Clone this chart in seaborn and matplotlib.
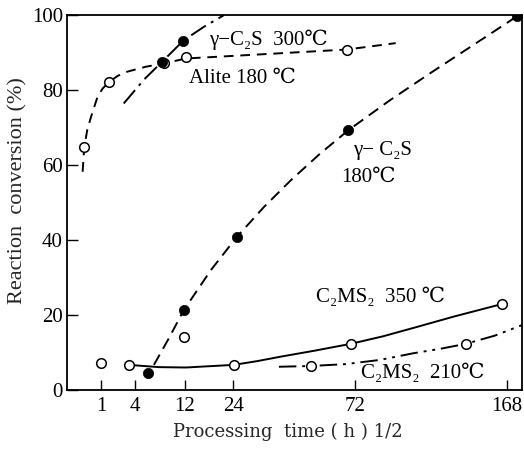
import numpy as np
import pandas as pd
import matplotlib
matplotlib.use("Agg")
import matplotlib.pyplot as plt
import seaborn as sns

# Horizontal axis is the square root of processing time, h^(1/2)
tick_hours = [1, 4, 12, 24, 72, 168]
tick_labels = ["1", "4", "12", "24", "72", "168"]
y_ticks = [0, 20, 40, 60, 80, 100]

# Alite, 180 degC (open circles, dashed curve)
alite_x = [0.51, 1.245, 2.86, 3.50, 8.25]
alite_y = [64.9, 82.2, 87.1, 88.7, 90.8]
alite_curve_x = [0.46, 0.51, 0.60, 0.71, 0.90, 1.05, 1.245, 1.50, 1.78, 2.32, 2.86, 3.50, 5.50, 8.25, 9.68]
alite_curve_y = [58.2, 64.9, 69.5, 72.9, 78.2, 80.4, 82.2, 83.8, 84.9, 86.2, 87.1, 88.4, 89.4, 90.8, 92.5]

# gamma-C2S, 300 degC (filled circles, dash-dot curve)
g300_x = [2.81, 3.43]
g300_y = [87.6, 93.2]
g300_curve_x = [1.67, 2.27, 2.81, 3.43, 4.04, 4.63]
g300_curve_y = [76.4, 82.8, 87.6, 93.2, 96.9, 100.0]

# gamma-C2S, 180 degC (filled circles, dashed curve)
g180_x = [2.38, 3.44, 5.00, 8.29, 13.26]
g180_y = [4.5, 21.3, 40.8, 69.3, 99.7]
g180_curve_x = [2.56, 3.00, 3.44, 4.24, 5.00, 5.80, 6.60, 7.45, 8.29, 9.50, 10.70, 12.00, 13.26]
g180_curve_y = [6.7, 13.8, 21.3, 32.0, 40.8, 48.8, 56.0, 63.0, 69.3, 77.2, 84.5, 92.2, 99.7]

# C2MS2, 350 degC (open circles, solid curve)
m350_x = [1.00, 1.82, 3.44, 4.91, 8.35, 12.80]
m350_y = [7.2, 6.7, 14.1, 6.7, 12.3, 22.9]
m350_curve_x = [1.82, 2.70, 3.50, 4.91, 5.60, 6.30, 7.30, 8.35, 9.30, 10.30, 11.40, 12.80]
m350_curve_y = [6.7, 6.1, 6.0, 6.7, 7.7, 8.9, 10.5, 12.3, 14.3, 16.8, 19.6, 22.9]

# C2MS2, 210 degC (open circles, dash-dot-dot curve)
m210_x = [7.18, 11.74]
m210_y = [6.4, 12.3]
m210_curve_x = [6.24, 7.18, 8.20, 9.20, 10.20, 11.00, 11.74, 12.60, 13.40]
m210_curve_y = [6.2, 6.4, 6.9, 8.0, 9.8, 11.0, 12.3, 14.5, 17.3]

sns.set_theme(style="ticks")
serif = ["Liberation Serif", "DejaVu Serif", "DejaVu Sans"]
plt.rcParams["font.family"] = serif

fig = plt.figure(figsize=(5.24, 4.5), dpi=100)
ax = fig.add_axes([67 / 524, 60 / 450, 455 / 524, 375 / 450])

lw = 1.4
curves = [
    (alite_curve_x, alite_curve_y, (0, (5, 3.5))),
    (g300_curve_x, g300_curve_y, (0, (9, 3, 1.5, 3))),
    (g180_curve_x, g180_curve_y, (0, (6, 3.5))),
    (m350_curve_x, m350_curve_y, "-"),
    (m210_curve_x, m210_curve_y, (0, (9, 3, 1.5, 3, 1.5, 3))),
]
for cx, cy, ls in curves:
    sns.lineplot(x=cx, y=cy, ax=ax, color="black", linewidth=lw,
                 linestyle=ls, sort=False, estimator=None, zorder=2)

open_sets = [(alite_x, alite_y), (m350_x, m350_y), (m210_x, m210_y)]
for px, py in open_sets:
    sns.scatterplot(x=px, y=py, ax=ax, s=48, facecolor="white",
                    edgecolor="black", linewidth=1.1, zorder=4)
filled_sets = [(g300_x, g300_y), (g180_x, g180_y)]
for px, py in filled_sets:
    sns.scatterplot(x=px, y=py, ax=ax, s=55, color="black",
                    edgecolor="black", linewidth=0.5, zorder=5)

ax.set_xlim(0, 13.4)
ax.set_ylim(0, 100)
ax.set_xticks(np.sqrt(tick_hours))
ax.set_xticklabels(tick_labels)
ax.set_yticks(y_ticks)
ax.set_yticklabels([str(v) for v in y_ticks])
ax.tick_params(axis="x", direction="in", length=7, width=1.0, pad=5,
               labelsize=15, colors="black")
ax.tick_params(axis="y", direction="in", length=8, width=1.0, pad=3,
               labelsize=15, colors="black")
for lab in ax.get_xticklabels() + ax.get_yticklabels():
    lab.set_family(serif)
for side in ["left", "right", "top", "bottom"]:
    ax.spines[side].set_visible(True)
    ax.spines[side].set_color("black")
    ax.spines[side].set_linewidth(1.3)
ax.set_xlabel("")
ax.set_ylabel("")

txt = dict(fontsize=15, family=serif, color="black", va="center", ha="left")
ax.text(4.18, 93.3, "\u03b3\u2212C\u2082S  300\u2103", **txt)
ax.text(3.59, 83.0, "Alite 180 \u2103", **txt)
ax.text(8.41, 64.0, "\u03b3\u2212 C\u2082S", **txt)
ax.text(8.06, 56.8, "180\u2103", **txt)
ax.text(7.32, 24.8, "C\u2082MS\u2082  350 \u2103", **txt)
ax.text(8.65, 4.5, "C\u2082MS\u2082  210\u2103", **txt)

fig.text(18 / 524, 1 - 191 / 450, "Reaction  conversion (%)", rotation=90,
         ha="center", va="center", fontsize=16, family=serif)
fig.text(288 / 524, 1 - 432 / 450, "Processing  time ( h ) 1/2",
         ha="center", va="center", fontsize=13, family=["DejaVu Serif"])

fig.savefig("out.png", dpi=100, facecolor="white")
